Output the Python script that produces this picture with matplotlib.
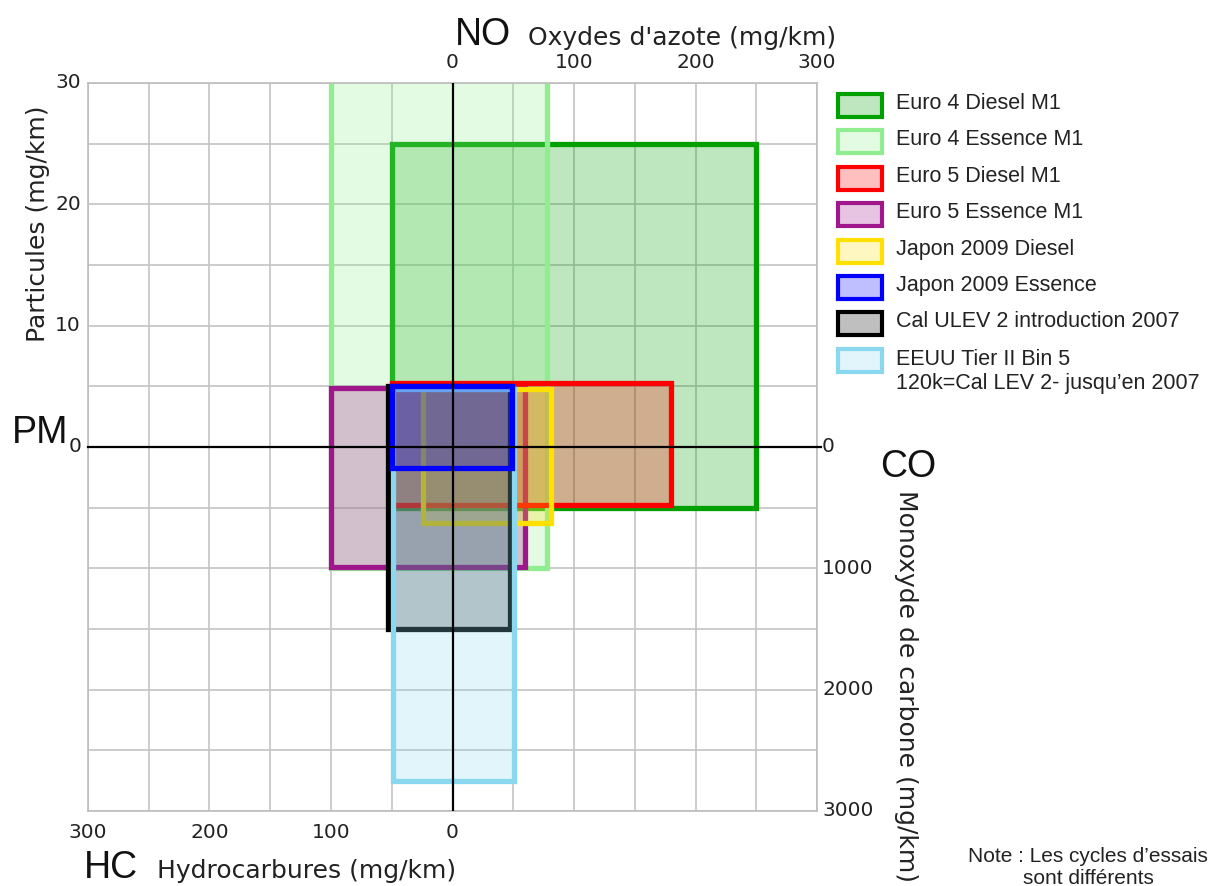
"""
Normes d'émissions véhicules légers : Euro 4/5, Japon 2009, Californie, EEUU
Diagramme à 4 demi-axes : NO (droite), HC (gauche), PM (haut), CO (bas)
"""

import numpy as np
import matplotlib
matplotlib.use("Agg")
import matplotlib.pyplot as plt
from matplotlib.patches import Rectangle
from matplotlib.colors import to_rgba

# ── données (mg/km) ───────────────────────────────────────────────────────────
STANDARDS = [
    "Euro 4 Diesel M1",
    "Euro 4 Essence M1",
    "Euro 5 Diesel M1",
    "Euro 5 Essence M1",
    "Japon 2009 Diesel",
    "Japon 2009 Essence",
    "Cal ULEV 2 introduction 2007",
    "EEUU Tier II Bin 5\n120k=Cal LEV 2- jusqu’en 2007",
]
HC  = [50, 100, 50, 100, 24, 50, 53, 49]
NOX = [250, 78, 180, 60, 81, 49, 47, 51]
PM  = [25, np.nan, 5.3, 4.9, 4.75, 5.0, 5.0, 4.75]   # nan = pas de limite
CO  = [500, 1000, 480, 990, 630, 175, 1500, 2750]

NO_TICKS = [0, 100, 200, 300]
HC_TICKS = [300, 200, 100, 0]
PM_TICKS = [30, 20, 10, 0]
CO_TICKS = [0, 1000, 2000, 3000]

# ── styles ────────────────────────────────────────────────────────────────────
EDGES = ["#00a000", "#90ee90", "#ff0000", "#a0168c",
         "#ffe000", "#0000ff", "#000000", "#8ad8f0"]
DRAW_ORDER = [0, 1, 3, 2, 4, 6, 7, 5]
CO_SCALE = 100          # 3000 mg/km CO  <->  30 mg/km PM
XMAX, YMAX = 300, 30
SANS = "Liberation Sans"

W, H = 1217, 886
def fx(px): return px / W
def fy(py): return 1 - py / H
def pt(px): return px * 0.72

fig = plt.figure(figsize=(W / 100, H / 100), dpi=100)
ax = fig.add_axes([fx(88), fy(811), (817 - 88) / W, (811 - 83) / H])
ax.set_xlim(-XMAX, XMAX)
ax.set_ylim(-YMAX, YMAX)

# grid
ax.set_xticks(np.arange(-XMAX, XMAX + 1, 50))
ax.set_yticks(np.arange(-YMAX, YMAX + 1, 5))
ax.tick_params(length=0, labelbottom=False, labelleft=False)
ax.grid(True, color="#c4c4c4", lw=1.2)
ax.set_axisbelow(True)
for s in ax.spines.values():
    s.set_color("#bdbdbd")
    s.set_linewidth(1.2)

# rectangles
for i in DRAW_ORDER:
    top = PM[i] if not np.isnan(PM[i]) else YMAX + 5
    bottom = -CO[i] / CO_SCALE
    ax.add_patch(Rectangle((-HC[i], bottom), HC[i] + NOX[i], top - bottom,
                           facecolor=to_rgba(EDGES[i], 0.25),
                           edgecolor=EDGES[i], lw=3.8, joinstyle="miter"))

# axes centraux
ax.axhline(0, xmin=0, xmax=1.006, color="black", lw=1.6, clip_on=False, zorder=10)
ax.axvline(0, color="black", lw=1.6, zorder=10)

# ── graduations ───────────────────────────────────────────────────────────────
tick_kw = dict(fontsize=14.5, color="#222222", textcoords="offset points")
for v in NO_TICKS:
    ax.annotate(str(v), xy=(v, 1), xycoords=("data", "axes fraction"),
                xytext=(0, pt(21)), ha="center", va="center", **tick_kw)
for v in HC_TICKS:
    ax.annotate(str(v), xy=(-v, 0), xycoords=("data", "axes fraction"),
                xytext=(0, pt(-22)), ha="center", va="center", **tick_kw)
for v in PM_TICKS:
    ax.annotate(str(v), xy=(0, v), xycoords=("axes fraction", "data"),
                xytext=(pt(-7), 0), ha="right", va="center", **tick_kw)
for v in CO_TICKS:
    ax.annotate(str(v), xy=(1, -v / CO_SCALE), xycoords=("axes fraction", "data"),
                xytext=(pt(5), 0), ha="left", va="center", **tick_kw)

# ── titres des axes ──────────────────────────────────────────────────────────
big = dict(fontsize=27, family=SANS, color="#111111")
lab = dict(fontsize=18, color="#222222")
fig.text(fx(455), fy(45), "NO", ha="left", va="baseline", **big)
fig.text(fx(528), fy(45), "Oxydes d'azote (mg/km)", ha="left", va="baseline", **lab)
fig.text(fx(12), fy(443), "PM", ha="left", va="baseline", **big)
fig.text(fx(38), fy(224), "Particules (mg/km)", rotation=90,
         ha="center", va="center", **lab)
fig.text(fx(84), fy(878), "HC", ha="left", va="baseline", **big)
fig.text(fx(157), fy(878), "Hydrocarbures (mg/km)", ha="left", va="baseline", **lab)
fig.text(fx(880), fy(477), "CO", ha="left", va="baseline", **big)
fig.text(fx(906), fy(490), "Monoxyde de carbone (mg/km)", rotation=270,
         ha="center", va="top", **lab)
fig.text(fx(1088), fy(857), "Note : Les cycles d’essais", ha="center", va="center",
         fontsize=15, family=SANS, color="#222222")
fig.text(fx(1088), fy(878), "sont différents", ha="center", va="center",
         fontsize=15, family=SANS, color="#222222")

# ── légende ───────────────────────────────────────────────────────────────────
for i, name in enumerate(STANDARDS):
    yc = 105.5 + i * 36.4
    fig.add_artist(Rectangle((fx(838), fy(yc + 11.5)), 44 / W, 23 / H,
                             transform=fig.transFigure,
                             facecolor=to_rgba(EDGES[i], 0.25),
                             edgecolor=EDGES[i], lw=3, joinstyle="miter"))
    if "\n" in name:
        fig.text(fx(896), fy(yc - 11), name, ha="left", va="top",
                 fontsize=15.5, family=SANS, color="#222222", linespacing=1.2)
    else:
        fig.text(fx(896), fy(yc - 2), name, ha="left", va="center",
                 fontsize=15.5, family=SANS, color="#222222")

fig.savefig("out.png", dpi=100)
plt.close(fig)
